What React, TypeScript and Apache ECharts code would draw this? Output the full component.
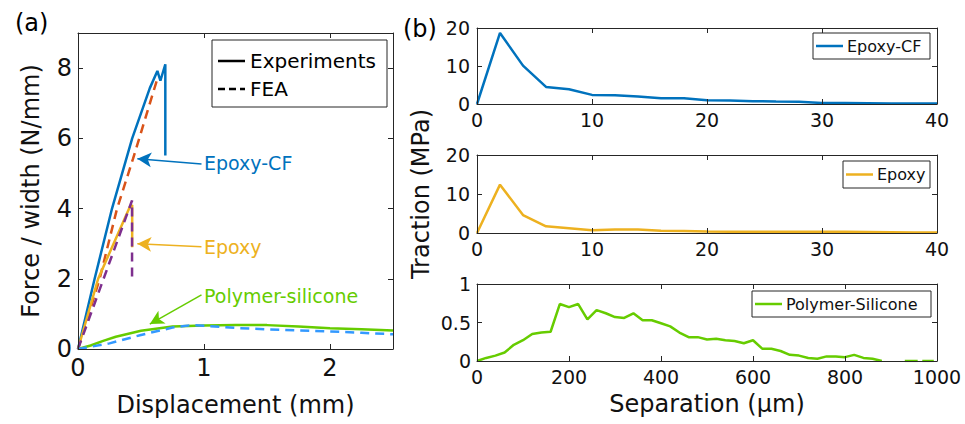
import React, { useEffect, useRef } from 'react';
import * as echarts from 'echarts';

const FONT = 'DejaVu Sans';
const AXIS_COLOR = '#262626';
const TEXT_COLOR = '#111111';

// ---------- Panel (a): force / width vs displacement ----------
const epoxyCfExperiment: number[][] = [
  [0, 0], [0.132, 2.0], [0.27, 4.0], [0.43, 6.0], [0.57, 7.43], [0.63, 7.92],
  [0.654, 7.64], [0.693, 8.11], [0.693, 5.51],
];
const epoxyCfFea: number[][] = [[0, 0], [0.172, 2.0], [0.31, 4.0], [0.437, 5.42], [0.63, 7.7]];
const epoxyExperiment: number[][] = [[0, 0], [0.16, 2.0], [0.41, 4.04], [0.43, 4.1], [0.43, 2.9]];
const epoxyFea: number[][] = [[0, 0], [0.203, 2.0], [0.429, 4.23], [0.429, 2.0]];
const polymerExperiment: number[][] = [
  [0, 0], [0.1, 0.1], [0.2, 0.23], [0.3, 0.35], [0.5, 0.52], [0.75, 0.64], [1.0, 0.67],
  [1.25, 0.68], [1.5, 0.68], [1.75, 0.64], [2.0, 0.59], [2.25, 0.56], [2.5, 0.53],
];
const polymerFea: number[][] = [
  [0, 0], [0.25, 0.16], [0.5, 0.4], [0.75, 0.61], [0.9, 0.68], [1.0, 0.66], [1.25, 0.6],
  [1.5, 0.56], [1.75, 0.53], [2.0, 0.5], [2.25, 0.46], [2.5, 0.42],
];
// annotation arrows: [tail, head] in data coordinates, and label anchor
const arrowEpoxyCf = [[0.98, 5.27], [0.471, 5.42]];
const arrowEpoxy = [[0.98, 2.91], [0.471, 3.0]];
const arrowPolymer = [[0.98, 1.54], [0.57, 0.71]];
const labelEpoxyCf = [1.0, 5.3];
const labelEpoxy = [1.0, 2.91];
const labelPolymer = [1.0, 1.51];

// ---------- Panel (b): traction vs separation ----------
const sepMicron40 = [0, 2, 4, 6, 8, 10, 12, 14, 16, 18, 20, 22, 24, 26, 28, 30, 32, 34, 36, 38, 40];
const tractionEpoxyCf = [0, 18.7, 10.1, 4.5, 3.9, 2.4, 2.3, 2.0, 1.5, 1.5, 1.0, 0.9, 0.75, 0.65, 0.6, 0.25, 0.25, 0.2, 0.15, 0.1, 0.1];
const tractionEpoxy = [0, 12.4, 4.6, 1.7, 1.2, 0.7, 0.9, 0.9, 0.6, 0.5, 0.4, 0.35, 0.35, 0.35, 0.3, 0.3, 0.3, 0.25, 0.2, 0.15, 0.1];
const sepPolymer = [
  0, 20, 40, 60, 80, 100, 120, 140, 160, 180, 200, 220, 240, 260, 280, 300, 320, 340, 360, 380,
  400, 420, 440, 460, 480, 500, 520, 540, 560, 580, 600, 620, 640, 660, 680, 700, 720, 740, 760, 780,
  800, 820, 840, 860, 880, 900, 930, 958, 963, 968, 993,
];
const tractionPolymer: (number | null)[] = [
  0, 0.04, 0.07, 0.11, 0.21, 0.27, 0.35, 0.37, 0.38, 0.74, 0.7, 0.74, 0.54, 0.66, 0.62, 0.57, 0.56, 0.62, 0.53, 0.53,
  0.49, 0.45, 0.37, 0.31, 0.31, 0.28, 0.29, 0.27, 0.26, 0.23, 0.27, 0.16, 0.16, 0.13, 0.08, 0.07, 0.04, 0.03, 0.06, 0.06,
  0.05, 0.08, 0.04, 0.03, 0, null, 0, 0, null, 0, 0,
];

const C_BLUE = '#0072BD';
const C_ORANGE = '#D95319';
const C_YELLOW = '#EDB120';
const C_PURPLE = '#7E2F8E';
const C_GREEN = '#66CC00';
const C_LBLUE = '#3399FF';

function tickFormatter(interval: number) {
  return (v: number) => {
    const r = v / interval;
    return Math.abs(r - Math.round(r)) < 1e-6 ? String(Math.round(v * 1000) / 1000) : '';
  };
}

function axisPair(kind: 'x' | 'y', gridIndex: number, min: number, max: number, interval: number, fontSize: number, margin: number, extra: any = {}) {
  const common = {
    type: 'value',
    gridIndex,
    min,
    max,
    interval,
    axisLine: { show: true, onZero: false, lineStyle: { color: AXIS_COLOR, width: 1 } },
    axisTick: { show: true, inside: true, length: 5, lineStyle: { color: AXIS_COLOR, width: 1 } },
    splitLine: { show: false },
    z: 5,
  };
  const main = {
    ...common,
    position: kind === 'x' ? 'bottom' : 'left',
    axisLabel: {
      show: true,
      fontSize,
      fontFamily: FONT,
      color: TEXT_COLOR,
      margin,
      formatter: tickFormatter(interval),
    },
    ...extra,
  };
  const mirror = {
    ...common,
    position: kind === 'x' ? 'top' : 'right',
    axisLabel: { show: false },
  };
  return [main, mirror];
}

function zip(xs: number[], ys: (number | null)[]) {
  return xs.map((x, i) => [x, ys[i] === null ? '-' : ys[i]]);
}

function arrowMarkLine(color: string, arrow: number[][]) {
  return {
    silent: true,
    symbol: ['none', 'arrow'],
    symbolSize: [11, 14],
    lineStyle: { color, width: 1.5, type: 'solid' },
    label: { show: false },
    data: [[{ coord: arrow[0] }, { coord: arrow[1] }]],
  };
}

function labelMarkPoint(color: string, text: string, at: number[]) {
  return {
    silent: true,
    symbol: 'circle',
    symbolSize: 0,
    label: {
      show: true,
      position: 'right',
      distance: 0,
      formatter: text,
      color,
      fontSize: 19,
      fontFamily: FONT,
    },
    data: [{ coord: at }],
  };
}

function buildOption() {
  const xa = [
    ...axisPair('x', 0, 0, 2.5, 1, 24, 7, {
      name: 'Displacement (mm)', nameLocation: 'middle', nameGap: 44,
      nameTextStyle: { fontSize: 24, fontFamily: FONT, color: TEXT_COLOR },
    }),
    ...axisPair('x', 1, 0, 40, 10, 19, 6),
    ...axisPair('x', 2, 0, 40, 10, 19, 6),
    ...axisPair('x', 3, 0, 1000, 200, 19, 6, {
      name: 'Separation (\u03bcm)', nameLocation: 'middle', nameGap: 31,
      nameTextStyle: { fontSize: 24, fontFamily: FONT, color: TEXT_COLOR },
    }),
  ];
  const ya = [
    ...axisPair('y', 0, 0, 9, 2, 24, 6, {
      name: 'Force / width (N/mm)', nameLocation: 'middle', nameGap: 35,
      nameTextStyle: { fontSize: 24, fontFamily: FONT, color: TEXT_COLOR },
    }),
    ...axisPair('y', 1, 0, 20, 10, 19, 7),
    ...axisPair('y', 2, 0, 20, 10, 19, 7, {
      name: 'Traction (MPa)', nameLocation: 'middle', nameGap: 44,
      nameTextStyle: { fontSize: 24, fontFamily: FONT, color: TEXT_COLOR },
    }),
    ...axisPair('y', 3, 0, 1, 0.5, 19, 6),
  ];

  const line = (name: string, data: any[], color: string, dashed: boolean, xi: number, yi: number, extra: any = {}) => ({
    type: 'line',
    name,
    data,
    xAxisIndex: xi,
    yAxisIndex: yi,
    showSymbol: false,
    symbol: 'none',
    connectNulls: false,
    lineStyle: { color, width: 2.5, type: dashed ? [9, 6] : 'solid' },
    itemStyle: { color },
    z: 3,
    ...extra,
  });

  const series = [
    line('Epoxy-CF FEA', epoxyCfFea, C_ORANGE, true, 0, 0),
    line('Epoxy-CF', epoxyCfExperiment, C_BLUE, false, 0, 0, {
      markLine: arrowMarkLine(C_BLUE, arrowEpoxyCf),
      markPoint: labelMarkPoint(C_BLUE, 'Epoxy-CF', labelEpoxyCf),
    }),
    line('Epoxy', epoxyExperiment, C_YELLOW, false, 0, 0, {
      markLine: arrowMarkLine(C_YELLOW, arrowEpoxy),
      markPoint: labelMarkPoint(C_YELLOW, 'Epoxy', labelEpoxy),
    }),
    line('Epoxy FEA', epoxyFea, C_PURPLE, true, 0, 0),
    line('Polymer-silicone', polymerExperiment, C_GREEN, false, 0, 0, {
      markLine: arrowMarkLine(C_GREEN, arrowPolymer),
      markPoint: labelMarkPoint(C_GREEN, 'Polymer-silicone', labelPolymer),
    }),
    line('Polymer-silicone FEA', polymerFea, C_LBLUE, true, 0, 0),
    line('Epoxy-CF traction', zip(sepMicron40, tractionEpoxyCf), C_BLUE, false, 2, 2),
    line('Epoxy traction', zip(sepMicron40, tractionEpoxy), C_YELLOW, false, 4, 4),
    line('Polymer-Silicone traction', zip(sepPolymer, tractionPolymer), C_GREEN, false, 6, 6),
  ];

  const legendBox = (x: number, y: number, w: number, h: number, color: string, label: string, fs: number, lineLen: number, dashed = false) => {
    const cy = y + h / 2;
    return [
      { type: 'rect', shape: { x, y, width: w, height: h }, style: { fill: '#fff', stroke: AXIS_COLOR, lineWidth: 1 }, z: 100 },
      { type: 'line', shape: { x1: x + 3, y1: cy, x2: x + 3 + lineLen, y2: cy }, style: { stroke: color, lineWidth: 2.5, lineDash: dashed ? [7, 4] : null }, z: 101 },
      { type: 'text', x: x + 7 + lineLen, y: cy, style: { text: label, fontSize: fs, fontFamily: FONT, fill: TEXT_COLOR, verticalAlign: 'middle', align: 'left' }, z: 101 },
    ];
  };

  const graphic = [
    // left legend
    { type: 'rect', shape: { x: 212, y: 40, width: 175, height: 67 }, style: { fill: '#fff', stroke: AXIS_COLOR, lineWidth: 1 }, z: 100 },
    { type: 'line', shape: { x1: 218, y1: 61, x2: 245, y2: 61 }, style: { stroke: '#000', lineWidth: 2.5 }, z: 101 },
    { type: 'text', x: 250, y: 61, style: { text: 'Experiments', fontSize: 20, fontFamily: FONT, fill: '#000', verticalAlign: 'middle' }, z: 101 },
    { type: 'line', shape: { x1: 218, y1: 89, x2: 245, y2: 89 }, style: { stroke: '#000', lineWidth: 2.5, lineDash: [7, 4] }, z: 101 },
    { type: 'text', x: 250, y: 89, style: { text: 'FEA', fontSize: 20, fontFamily: FONT, fill: '#000', verticalAlign: 'middle' }, z: 101 },
    // right legends
    ...legendBox(813, 33, 117, 26, C_BLUE, 'Epoxy-CF', 16, 27),
    ...legendBox(843, 161, 87, 27, C_YELLOW, 'Epoxy', 16, 27),
    ...legendBox(752, 291, 179, 26, C_GREEN, 'Polymer-Silicone', 16, 27),
    // panel tags
    { type: 'text', x: 15, y: 23, style: { text: '(a)', fontSize: 24, fontFamily: FONT, fill: '#000', verticalAlign: 'middle' } },
    { type: 'text', x: 403, y: 29, style: { text: '(b)', fontSize: 24, fontFamily: FONT, fill: '#000', verticalAlign: 'middle' } },
  ];

  return {
    animation: false,
    backgroundColor: '#fff',
    grid: [
      { left: 78, top: 33, width: 315, height: 316, outerBoundsMode: 'none' },
      { left: 477, top: 28, width: 460, height: 76, outerBoundsMode: 'none' },
      { left: 477, top: 155, width: 460, height: 78, outerBoundsMode: 'none' },
      { left: 477, top: 284, width: 460, height: 77, outerBoundsMode: 'none' },
    ],
    xAxis: xa,
    yAxis: ya,
    series,
    graphic,
  };
}

export default function App() {
  const ref = useRef<HTMLDivElement>(null);
  useEffect(() => {
    const chart = echarts.init(ref.current as HTMLDivElement, null, { renderer: 'svg' });
    chart.setOption(buildOption() as any);
    return () => chart.dispose();
  }, []);
  return (
    <div
      ref={ref}
      style={{ position: 'fixed', left: 0, top: 0, width: 965, height: 424, background: '#fff' }}
    />
  );
}
